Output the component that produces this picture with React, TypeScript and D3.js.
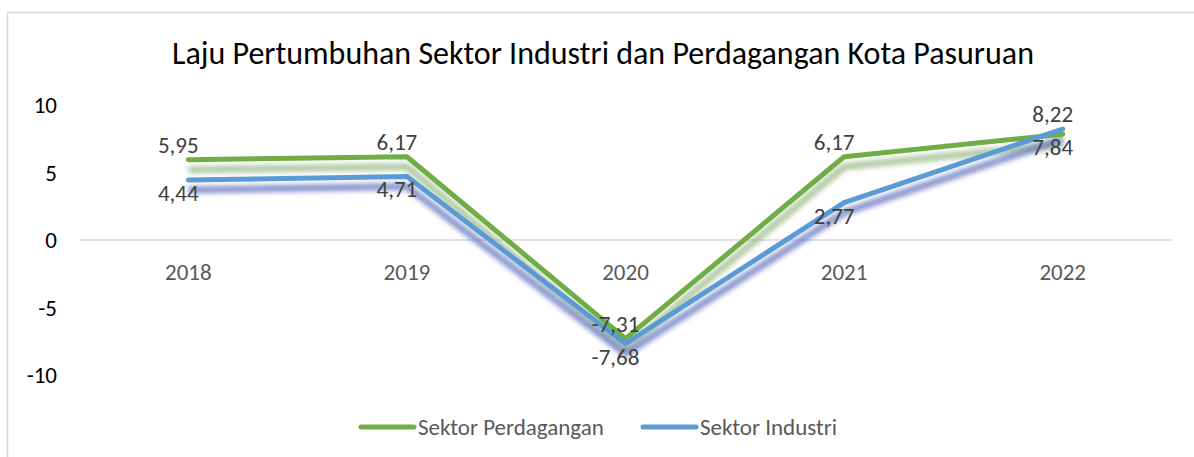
import React from "react";
import * as d3 from "d3";

const years = ["2018", "2019", "2020", "2021", "2022"];
const perdagangan = [5.95, 6.17, -7.31, 6.17, 7.84];
const industri = [4.44, 4.71, -7.68, 2.77, 8.22];
const yTicks = [10, 5, 0, -5, -10];
const seriesNames = ["Sektor Perdagangan", "Sektor Industri"];
const title = "Laju Pertumbuhan Sektor Industri dan Perdagangan Kota Pasuruan";

const W = 1194;
const H = 457;
const FONT = "Carlito, 'Open Sans', sans-serif";

export default function App() {
  const x = d3.scaleBand<string>().domain(years).range([79, 1172]);
  const cx = (d: string) => (x(d) as number) + x.bandwidth() / 2;
  const y = d3.scaleLinear().domain([-10, 10]).range([375, 105]);

  const series = [
    { name: seriesNames[0], values: perdagangan, color: "#70AD47", shadow: "#8fb27a" },
    { name: seriesNames[1], values: industri, color: "#5B9BD5", shadow: "#5366b8" },
  ];

  const line = d3
    .line<number>()
    .x((_, i) => cx(years[i]))
    .y((v) => y(v));

  const fmt = (v: number) => v.toFixed(2).replace(".", ",");

  return (
    <svg
      width={W}
      height={H}
      style={{ position: "absolute", left: 0, top: 0, background: "#fff" }}
      fontFamily={FONT}
    >
      <defs>
        <filter id="blur" x="-10%" y="-30%" width="120%" height="160%">
          <feGaussianBlur stdDeviation="2.6" />
        </filter>
      </defs>
      <rect x={7.5} y={12.5} width={1300} height={600} fill="#fff" stroke="#d9d9d9" strokeWidth={1.5} />
      <text x={603} y={64} textAnchor="middle" fontSize={32} fill="#000">
        {title}
      </text>
      {yTicks.map((t) => (
        <text key={t} x={57} y={y(t)} dy="0.35em" textAnchor="end" fontSize={23} fill="#000">
          {t}
        </text>
      ))}
      <line x1={79} x2={1172} y1={y(0)} y2={y(0)} stroke="#d9d9d9" strokeWidth={1.5} />
      {years.map((yr) => (
        <text key={yr} x={cx(yr)} y={272} dy="0.35em" textAnchor="middle" fontSize={23} fill="#595959">
          {yr}
        </text>
      ))}
      {series.map((s) => (
        <g key={s.name + "sh"} transform="translate(0,10)" filter="url(#blur)" opacity={0.7}>
          <path d={line(s.values) || ""} fill="none" stroke={s.shadow} strokeWidth={7} strokeLinejoin="round" />
        </g>
      ))}
      {series.map((s) => (
        <path
          key={s.name}
          d={line(s.values) || ""}
          fill="none"
          stroke={s.color}
          strokeWidth={5}
          strokeLinejoin="round"
          strokeLinecap="round"
        />
      ))}
      {series.map((s, si) =>
        s.values.map((v, i) => {
          const other = series[1 - si].values[i];
          const above = v >= other;
          return (
            <text
              key={s.name + i}
              x={cx(years[i]) - 10}
              y={y(v) + (above ? -15 : 13)}
              dy="0.35em"
              textAnchor="middle"
              fontSize={23}
              fill="#404040"
            >
              {fmt(v)}
            </text>
          );
        })
      )}
      {series.map((s, i) => {
        const lx = i === 0 ? 361 : 643;
        return (
          <g key={s.name + "lg"}>
            <line x1={lx} x2={lx + 53} y1={427} y2={427} stroke={s.color} strokeWidth={5} strokeLinecap="round" />
            <text x={lx + 57} y={427} dy="0.35em" fontSize={23} fill="#595959">
              {s.name}
            </text>
          </g>
        );
      })}
    </svg>
  );
}
